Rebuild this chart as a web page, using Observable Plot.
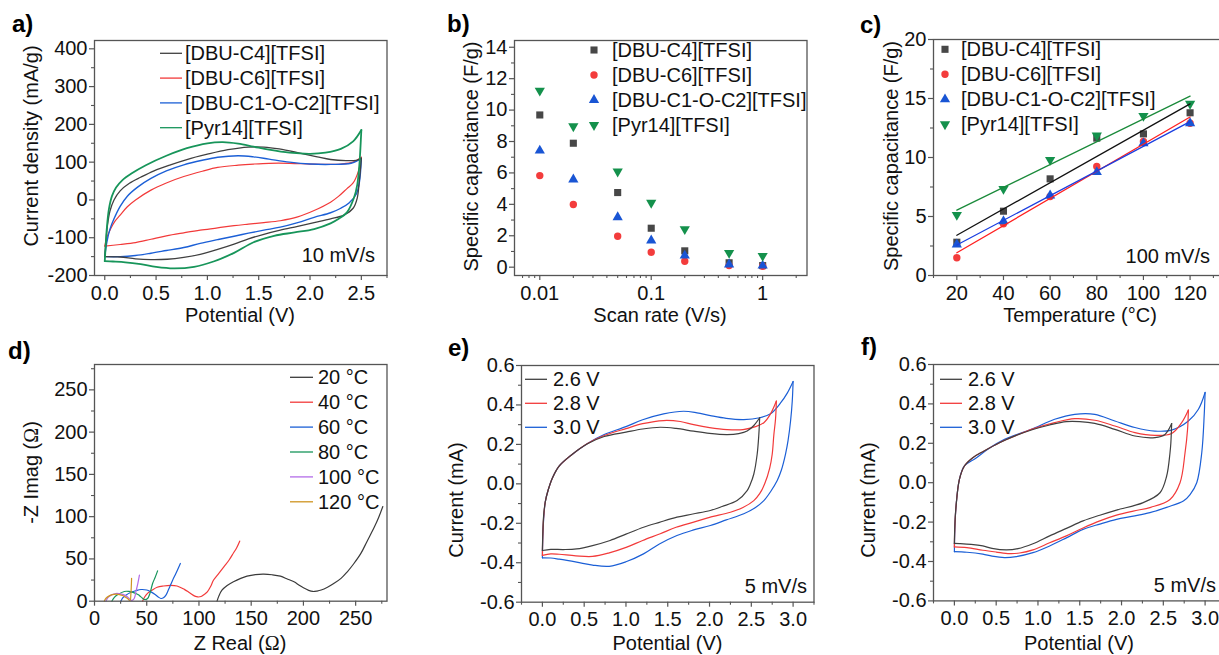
<!DOCTYPE html>
<html><head><meta charset="utf-8">
<script src="https://cdn.jsdelivr.net/npm/d3@7"></script>
<script src="https://cdn.jsdelivr.net/npm/@observablehq/plot@0.6"></script>
<style>
html,body{margin:0;padding:0;background:#fff;overflow:hidden;width:1219px;height:655px;}
#root{position:relative;width:1219px;height:655px;overflow:hidden;}
#root svg{position:absolute;max-width:none;}
</style></head><body><div id="root"></div>
<script>
// ---------------- DATA ----------------
const ilNames = ["[DBU-C4][TFSI]", "[DBU-C6][TFSI]", "[DBU-C1-O-C2][TFSI]", "[Pyr14][TFSI]"];
const ilLineColors = ["#404040", "#f23a3a", "#1b5fd6", "#17955a"];
const ilMarkColors = ["#474747", "#f33c3c", "#1955d4", "#14914c"];
const ilFitColors = ["#111111", "#ff2020", "#1a3ee0", "#1a8a3a"];

// a) CV at 10 mV/s : [potential V, current density mA/g], forward then reverse
const aC4 = [[0,-150],[0.01,-115],[0.025,-70],[0.05,-30],[0.09,0],[0.15,24],[0.24,44],[0.35,60],[0.48,77],[0.64,93],[0.8,107],[1.0,121],[1.2,133],[1.4,140],[1.55,140],[1.7,135],[1.9,124],[2.07,114],[2.2,107],[2.35,104],[2.45,105],[2.5,110],
  [2.48,50],[2.46,5],[2.42,-22],[2.33,-40],[2.2,-50],[2.04,-60],[1.88,-70],[1.71,-80],[1.55,-91],[1.4,-103],[1.26,-117],[1.1,-131],[0.93,-144],[0.77,-152],[0.61,-157],[0.45,-158],[0.3,-156],[0.15,-151],[0,-150]];
const aC6 = [[0,-122],[0.02,-100],[0.06,-75],[0.1,-56],[0.15,-40],[0.22,-18],[0.3,0],[0.45,26],[0.6,45],[0.77,62],[0.95,76],[1.1,86],[1.3,92],[1.45,95],[1.6,97],[1.8,97],[2.0,95],[2.15,94],[2.3,95],[2.42,100],[2.5,113],
  [2.47,75],[2.42,45],[2.36,30],[2.28,10],[2.2,-6],[2.04,-28],[1.88,-45],[1.71,-55],[1.55,-60],[1.4,-64],[1.26,-68],[1.1,-74],[0.93,-80],[0.77,-87],[0.6,-95],[0.45,-104],[0.3,-113],[0.15,-118],[0,-122]];
const aC1OC2 = [[0,-150],[0.02,-112],[0.05,-78],[0.09,-50],[0.15,-17],[0.22,10],[0.32,34],[0.45,57],[0.6,77],[0.77,93],[0.95,105],[1.1,113],[1.3,117],[1.45,114],[1.6,108],[1.8,100],[2.0,95],[2.2,94],[2.4,97],[2.5,110],
  [2.48,45],[2.45,15],[2.38,-8],[2.3,-22],[2.2,-34],[2.04,-46],[1.88,-60],[1.71,-72],[1.55,-80],[1.4,-88],[1.26,-96],[1.1,-105],[0.93,-115],[0.77,-126],[0.6,-134],[0.45,-141],[0.3,-147],[0.15,-150],[0,-150]];
const aPyr14 = [[0,-162],[0.008,-125],[0.02,-75],[0.04,-25],[0.07,10],[0.11,33],[0.17,52],[0.26,70],[0.4,92],[0.6,117],[0.8,137],[1.0,150],[1.15,153],[1.3,149],[1.45,141],[1.6,133],[1.8,125],[2.0,122],[2.15,125],[2.3,135],[2.42,155],[2.5,185],
  [2.48,90],[2.46,40],[2.43,7],[2.36,-33],[2.28,-50],[2.2,-62],[2.04,-77],[1.85,-86],[1.65,-95],[1.45,-112],[1.26,-140],[1.06,-163],[0.87,-177],[0.67,-181],[0.5,-177],[0.35,-170],[0.2,-165],[0.08,-163],[0,-162]];

// b) specific capacitance vs scan rate
const scanRates = [0.01, 0.02, 0.05, 0.1, 0.2, 0.5, 1];
const bC4 = [9.69, 7.89, 4.75, 2.48, 1.04, 0.28, 0.10];
const bC6 = [5.83, 3.99, 1.97, 0.95, 0.38, 0.10, 0.06];
const bC1OC2 = [7.42, 5.58, 3.18, 1.70, 0.74, 0.17, 0.10];
const bPyr14 = [11.24, 8.97, 6.09, 4.10, 2.42, 0.91, 0.72];

// c) specific capacitance vs temperature at 100 mV/s
const temps = [20, 40, 60, 80, 100, 120];
const cC4 = [2.82, 5.45, 8.19, 11.64, 12.00, 13.79];
const cC6 = [1.50, 4.38, 6.69, 9.24, 11.36, 12.90];
const cC1OC2 = [2.63, 4.60, 6.78, 8.76, 11.20, 12.90];
const cPyr14 = [5.14, 7.34, 9.80, 11.86, 13.53, 14.55];

// d) Nyquist plots [Z real, -Z imag]
const tempLabels = ["20 °C", "40 °C", "60 °C", "80 °C", "100 °C", "120 °C"];
const tempColors = ["#3a3a3a", "#f23a3a", "#1b5fd6", "#17955a", "#b36ce8", "#cf9420"];
const d20 = [[117.3,0],[119,6],[122,13],[127,18.5],[133,23],[140,27],[146,29.6],[154,31.5],[162,32],[170,31.3],[178,29.6],[185,26],[191,22.9],[196,18.8],[200,15.8],[205,12.8],[209,11.5],[213,12],[217,13.2],[223,16.5],[229,20.9],[236,27],[242,34.8],[248,44],[255,56.5],[261,71],[268,88],[272,99],[276,112]];
const d40 = [[46,0],[48,5],[51,9.5],[55,13],[60,16.5],[66,18],[73,18.8],[79,18],[86,14],[91,10],[96,6],[99,5],[102,5.5],[105,8],[108,11],[111,17],[114,25],[119,33],[124,41],[129,49],[133,57],[136,63],[139,71]];
const d60 = [[25.3,0],[27,4],[30,7.1],[35,10.5],[40,12.6],[44.5,13.8],[50,13.2],[54,11],[58,8],[61,5],[63.6,3.2],[66,4],[68.4,7.1],[71,14],[74.8,24.9],[78,33],[82.2,44.6]];
const d80 = [[16.6,0],[19,4.5],[22,7.5],[28.5,11.5],[33,11.5],[38.1,9.9],[42,7.5],[44.5,5.1],[47.7,2],[50.8,3.2],[53,9],[55.6,20.9],[58,28],[60.4,35.9]];
const d100 = [[10.9,0],[13,4.5],[16,7.2],[20.5,9.1],[25,8.6],[30.1,6.3],[33,3.5],[34.9,1.2],[36,1],[38,3.2],[40,13],[41.5,21],[43,30.8]];
const d120 = [[9.3,0],[11,3.5],[14.1,6.3],[17,7.8],[20.5,8.3],[24,7.8],[26.9,6.7],[30,4.5],[31.7,3.2],[33.3,1.2],[34.2,1],[34.8,8],[35.2,17],[35.5,27]];

// e) CV at 5 mV/s, different voltage windows [V, mA]
const winLabels = ["2.6 V", "2.8 V", "3.0 V"];
const winColors = ["#404040", "#f23a3a", "#1b5fd6"];
const e26 = [[0,-0.338],[0.005,-0.25],[0.015,-0.16],[0.035,-0.09],[0.07,-0.03],[0.12,0.03],[0.2,0.09],[0.34,0.144],[0.54,0.203],[0.74,0.24],[1.0,0.262],[1.2,0.278],[1.41,0.287],[1.6,0.281],[1.81,0.267],[2.0,0.256],[2.21,0.25],[2.35,0.255],[2.45,0.268],[2.53,0.296],[2.6,0.335],
  [2.59,0.25],[2.57,0.15],[2.53,0.05],[2.49,0.0],[2.45,-0.034],[2.33,-0.085],[2.15,-0.115],[2.01,-0.135],[1.8,-0.153],[1.61,-0.169],[1.4,-0.195],[1.21,-0.22],[1.0,-0.255],[0.81,-0.287],[0.6,-0.313],[0.41,-0.33],[0.25,-0.333],[0.1,-0.332],[0,-0.338]];
const e28 = [[0,-0.363],[0.005,-0.26],[0.015,-0.17],[0.035,-0.09],[0.07,-0.03],[0.12,0.03],[0.2,0.09],[0.34,0.144],[0.54,0.205],[0.74,0.245],[1.0,0.28],[1.2,0.305],[1.45,0.321],[1.65,0.316],[1.81,0.3],[2.0,0.285],[2.21,0.275],[2.4,0.275],[2.55,0.29],[2.65,0.31],[2.73,0.355],[2.8,0.42],
  [2.79,0.33],[2.77,0.25],[2.75,0.15],[2.72,0.08],[2.66,0.0],[2.6,-0.05],[2.53,-0.085],[2.4,-0.12],[2.25,-0.144],[2.0,-0.17],[1.81,-0.194],[1.6,-0.22],[1.41,-0.253],[1.2,-0.287],[1.01,-0.321],[0.8,-0.35],[0.6,-0.368],[0.4,-0.365],[0.2,-0.357],[0.1,-0.355],[0,-0.363]];
const e30 = [[0,-0.375],[0.005,-0.27],[0.015,-0.18],[0.035,-0.09],[0.07,-0.03],[0.12,0.03],[0.2,0.09],[0.34,0.144],[0.54,0.205],[0.74,0.25],[1.0,0.29],[1.2,0.325],[1.45,0.355],[1.69,0.368],[1.85,0.36],[2.01,0.346],[2.2,0.332],[2.41,0.326],[2.6,0.335],[2.73,0.355],[2.85,0.41],[2.93,0.46],[3.0,0.519],
  [2.99,0.42],[2.97,0.32],[2.94,0.22],[2.91,0.152],[2.86,0.07],[2.81,0.017],[2.73,-0.04],[2.65,-0.085],[2.55,-0.12],[2.41,-0.152],[2.2,-0.183],[2.01,-0.211],[1.8,-0.235],[1.61,-0.262],[1.4,-0.305],[1.21,-0.355],[1.0,-0.395],[0.8,-0.418],[0.6,-0.412],[0.41,-0.397],[0.2,-0.382],[0.1,-0.376],[0,-0.375]];

// f) CV at 5 mV/s, second cell [V, mA]
const f26 = [[0,-0.308],[0.005,-0.22],[0.02,-0.118],[0.06,0.017],[0.12,0.085],[0.22,0.127],[0.35,0.16],[0.54,0.203],[0.74,0.24],[0.94,0.27],[1.14,0.293],[1.34,0.31],[1.5,0.31],[1.68,0.301],[1.92,0.271],[2.16,0.237],[2.4,0.229],[2.52,0.245],[2.6,0.3],
  [2.59,0.2],[2.58,0.152],[2.54,0.034],[2.46,-0.051],[2.26,-0.101],[1.94,-0.139],[1.74,-0.165],[1.54,-0.194],[1.34,-0.232],[1.14,-0.27],[0.94,-0.31],[0.76,-0.335],[0.62,-0.341],[0.45,-0.333],[0.34,-0.321],[0.2,-0.313],[0.06,-0.309],[0,-0.308]];
const f28 = [[0,-0.326],[0.005,-0.23],[0.02,-0.118],[0.06,0.017],[0.12,0.085],[0.22,0.127],[0.35,0.16],[0.54,0.203],[0.74,0.24],[0.94,0.273],[1.2,0.305],[1.44,0.325],[1.68,0.317],[1.92,0.288],[2.16,0.254],[2.4,0.24],[2.6,0.25],[2.72,0.305],[2.8,0.369],
  [2.79,0.27],[2.76,0.152],[2.7,0],[2.58,-0.085],[2.35,-0.125],[2.14,-0.144],[1.94,-0.165],[1.74,-0.194],[1.54,-0.23],[1.34,-0.27],[1.14,-0.305],[0.94,-0.341],[0.78,-0.357],[0.66,-0.36],[0.5,-0.352],[0.34,-0.343],[0.15,-0.33],[0,-0.326]];
const f30 = [[0,-0.35],[0.005,-0.24],[0.02,-0.118],[0.06,0.017],[0.12,0.085],[0.26,0.125],[0.4,0.17],[0.6,0.22],[0.92,0.271],[1.2,0.322],[1.44,0.347],[1.68,0.347],[1.92,0.313],[2.16,0.28],[2.4,0.262],[2.6,0.267],[2.8,0.313],[2.92,0.373],[3.0,0.458],
  [2.99,0.35],[2.96,0.152],[2.9,0],[2.82,-0.06],[2.74,-0.093],[2.54,-0.125],[2.34,-0.152],[2.14,-0.17],[1.94,-0.186],[1.74,-0.21],[1.54,-0.237],[1.34,-0.28],[1.14,-0.321],[0.94,-0.355],[0.74,-0.375],[0.6,-0.38],[0.45,-0.373],[0.34,-0.363],[0.15,-0.353],[0,-0.35]];

// tick values
const aXTicks = [0, 0.5, 1, 1.5, 2, 2.5], aXMinor = [0.25, 0.75, 1.25, 1.75, 2.25, 2.75];
const aYTicks = [-200, -100, 0, 100, 200, 300, 400], aYMinor = [-150, -50, 50, 150, 250, 350];
const bXTicks = [0.01, 0.1, 1], bXMinor = [0.007, 0.008, 0.009, 0.02, 0.03, 0.04, 0.05, 0.06, 0.07, 0.08, 0.09, 0.2, 0.3, 0.4, 0.5, 0.6, 0.7, 0.8, 0.9, 2];
const bYTicks = [0, 2, 4, 6, 8, 10, 12, 14], bYMinor = [1, 3, 5, 7, 9, 11, 13];
const cXTicks = [20, 40, 60, 80, 100, 120], cXMinor = [10, 30, 50, 70, 90, 110, 130];
const cYTicks = [0, 5, 10, 15, 20], cYMinor = [2.5, 7.5, 12.5, 17.5];
const dTicks = [0, 50, 100, 150, 200, 250], dMinor = [25, 75, 125, 175, 225, 275];
const eXTicks = [0, 0.5, 1, 1.5, 2, 2.5, 3], eXMinor = [-0.25, 0.25, 0.75, 1.25, 1.75, 2.25, 2.75, 3.25];
const eYTicks = [-0.6, -0.4, -0.2, 0, 0.2, 0.4, 0.6], eYMinor = [-0.5, -0.3, -0.1, 0.1, 0.3, 0.5];

// ---------------- HELPERS ----------------
const FONT = '"Liberation Sans", Arial, Helvetica, sans-serif';
const AXIS = "#555555";
const root = document.getElementById("root");

const triangleDown = {
  draw(context, size) {
    const y = Math.sqrt(size / (Math.sqrt(3) * 3));
    context.moveTo(0, y * 2);
    context.lineTo(-Math.sqrt(3) * y, -y);
    context.lineTo(Math.sqrt(3) * y, -y);
    context.closePath();
  }
};
const ilSymbols = ["square", "circle", "triangle", triangleDown];
const ilSymbolTypes = [d3.symbolSquare, d3.symbolCircle, d3.symbolTriangle, triangleDown];
const ilR = [4.0, 3.7, 3.8, 3.8];

function toRows(arr) { return arr.map(([x, y]) => ({x, y})); }
function loopMarks(arr, color, width) {
  let iMax = 0;
  arr.forEach((p, i) => { if (p[0] > arr[iMax][0]) iMax = i; });
  const fwd = toRows(arr.slice(0, iMax + 1)), rev = toRows(arr.slice(iMax));
  return [fwd, rev].map(d => Plot.line(d, {x: "x", y: "y", stroke: color, strokeWidth: width, curve: "catmull-rom"}));
}

function panel(cfg) {
  const [L, T, R, B] = cfg.frame;
  const mL = 100, mT = 12, mR = 12, mB = 44;
  const axisText = {fontSize: 20, fill: "#111", stroke: AXIS, label: null};
  const chart = Plot.plot({
    width: (R - L) + mL + mR, height: (B - T) + mT + mB,
    marginLeft: mL, marginTop: mT, marginRight: mR, marginBottom: mB,
    x: {...cfg.x, axis: null}, y: {...cfg.y, axis: null},
    style: {background: "none", fontFamily: FONT, fontSize: "20px", overflow: "visible"},
    marks: [
      ...cfg.marks,
      Plot.frame({stroke: AXIS, strokeWidth: 1.3}),
      Plot.axisX({...axisText, ticks: cfg.xTicks, anchor: "bottom", tickSize: 5, tickPadding: 5, tickFormat: cfg.xFmt, strokeWidth: 1.2}),
      Plot.axisX({...axisText, ticks: cfg.xMinor, anchor: "bottom", tickSize: 3, tickFormat: () => "", strokeWidth: 1.1}),
      Plot.axisY({...axisText, ticks: cfg.yTicks, anchor: "left", tickSize: 5, tickPadding: 2, tickFormat: cfg.yFmt, strokeWidth: 1.2}),
      Plot.axisY({...axisText, ticks: cfg.yMinor, anchor: "left", tickSize: 3, tickFormat: () => "", strokeWidth: 1.1})
    ]
  });
  chart.style.position = "absolute";
  chart.style.left = (L - mL) + "px";
  chart.style.top = (T - mT) + "px";
  root.appendChild(chart);
}
const f1 = d => d.toFixed(1);
const fs = d => String(d);

// ---------------- PANELS ----------------
// a
panel({
  frame: [94, 40, 386.5, 275],
  x: {domain: [-0.1, 2.75]}, y: {domain: [-200, 422]},
  xTicks: aXTicks, xMinor: aXMinor, yTicks: aYTicks, yMinor: aYMinor, xFmt: f1, yFmt: fs,
  marks: [
    ...loopMarks(aC6, ilLineColors[1], 1.2),
    ...loopMarks(aC1OC2, ilLineColors[2], 1.4),
    ...loopMarks(aC4, ilLineColors[0], 1.3),
    ...loopMarks(aPyr14, ilLineColors[3], 1.8)
  ]
});
// b
const bSeries = [bC4, bC6, bC1OC2, bPyr14];
panel({
  frame: [514, 40, 806.5, 275],
  x: {type: "log", domain: [0.00593, 2.5]}, y: {domain: [-0.53, 14.43]},
  xTicks: bXTicks, xMinor: bXMinor, yTicks: bYTicks, yMinor: bYMinor, xFmt: fs, yFmt: fs,
  marks: bSeries.map((vals, i) => Plot.dot(scanRates.map((r, j) => ({x: r, y: vals[j]})),
    {x: "x", y: "y", symbol: () => ilSymbols[i], r: ilR[i], fill: ilMarkColors[i], stroke: "none"}))
});
// c
const cSeries = [cC4, cC6, cC1OC2, cPyr14];
const cRows = cSeries.map(vals => temps.map((t, j) => ({x: t, y: vals[j]})));
panel({
  frame: [933.3, 39, 1225.8, 275],
  x: {domain: [10, 135.4]}, y: {domain: [0, 20]},
  xTicks: cXTicks, xMinor: cXMinor, yTicks: cYTicks, yMinor: cYMinor, xFmt: fs, yFmt: fs,
  marks: [
    ...cRows.map((rows, i) => Plot.dot(rows, {x: "x", y: "y", symbol: () => ilSymbols[i], r: ilR[i], fill: ilMarkColors[i], stroke: "none"})),
    ...cRows.map((rows, i) => Plot.linearRegressionY(rows, {x: "x", y: "y", stroke: ilFitColors[i], strokeWidth: 1.3, ci: 0}))
  ]
});
// d
const dSeries = [d20, d40, d60, d80, d100, d120];
panel({
  frame: [94, 364.3, 386.5, 601],
  x: {domain: [0, 280]}, y: {domain: [0, 280]},
  xTicks: dTicks, xMinor: dMinor, yTicks: dTicks, yMinor: dMinor, xFmt: fs, yFmt: fs,
  marks: dSeries.map((arr, i) => Plot.line(toRows(arr), {x: "x", y: "y", stroke: tempColors[i], strokeWidth: 1.2, curve: "catmull-rom"}))
});
// e
panel({
  frame: [521, 365, 813.5, 601.7],
  x: {domain: [-0.25, 3.25]}, y: {domain: [-0.6, 0.6]},
  xTicks: eXTicks, xMinor: eXMinor, yTicks: eYTicks, yMinor: eYMinor, xFmt: f1, yFmt: f1,
  marks: [e30, e28, e26].flatMap((arr, k) => loopMarks(arr, winColors[2 - k], 1.2))
});
// f
panel({
  frame: [932.7, 364.3, 1225.2, 600.7],
  x: {domain: [-0.25, 3.25]}, y: {domain: [-0.6, 0.6]},
  xTicks: eXTicks, xMinor: eXMinor, yTicks: eYTicks, yMinor: eYMinor, xFmt: f1, yFmt: f1,
  marks: [f30, f28, f26].flatMap((arr, k) => loopMarks(arr, winColors[2 - k], 1.2))
});

// ---------------- TEXT / LEGENDS OVERLAY ----------------
const ov = d3.select(root).append("svg").attr("width", 1219).attr("height", 655)
  .style("left", "0px").style("top", "0px").style("font-family", FONT).style("pointer-events", "none");
function text(x, y, s, opt = {}) {
  const t = ov.append("text").attr("x", x).attr("y", y).attr("font-size", opt.size || 20)
    .attr("fill", opt.fill || "#111").attr("text-anchor", opt.anchor || "start")
    .attr("font-weight", opt.weight || "normal");
  if (opt.rotate) t.attr("transform", `rotate(-90 ${x} ${y})`);
  t.text(s);
  return t;
}
function textOhm(x, y, pre, opt = {}) {
  const t = text(x, y, "", opt);
  t.append("tspan").text(pre + " (");
  t.append("tspan").attr("font-family", '"Liberation Serif", "DejaVu Serif", serif').text("Ω");
  t.append("tspan").text(")");
}
// panel letters
[["a)", 12, 32], ["b)", 447, 32], ["c)", 860, 33], ["d)", 8, 359], ["e)", 448, 356], ["f)", 861, 355]]
  .forEach(([s, x, y]) => text(x, y, s, {size: 24, weight: "bold", fill: "#000"}));
// axis titles
text(37.5, 146, "Current density (mA/g)", {anchor: "middle", rotate: true});
text(240, 322, "Potential (V)", {anchor: "middle"});
text(478, 156.5, "Specific capacitance (F/g)", {anchor: "middle", rotate: true});
text(660, 322, "Scan rate (V/s)", {anchor: "middle"});
text(897.5, 156, "Specific capacitance (F/g)", {anchor: "middle", rotate: true});
text(1080, 322, "Temperature (°C)", {anchor: "middle"});
textOhm(38.3, 472.5, "-Z Imag", {anchor: "middle", rotate: true});
textOhm(240, 650, "Z Real", {anchor: "middle"});
text(463, 500, "Current (mA)", {anchor: "middle", rotate: true});
text(667.5, 650, "Potential (V)", {anchor: "middle"});
text(875, 500, "Current (mA)", {anchor: "middle", rotate: true});
text(1079, 650, "Potential (V)", {anchor: "middle"});
// annotations
text(375, 262, "10 mV/s", {anchor: "end"});
text(1210, 263, "100 mV/s", {anchor: "end"});
text(807, 592.5, "5 mV/s", {anchor: "end"});
text(1216, 592, "5 mV/s", {anchor: "end"});
// legend helpers
function lineLegend(x0, x1, tx, y0, dy, names, colors) {
  names.forEach((n, i) => {
    const y = y0 + i * dy;
    ov.append("line").attr("x1", x0).attr("x2", x1).attr("y1", y).attr("y2", y)
      .attr("stroke", colors[i]).attr("stroke-width", 1.3);
    text(tx, y + 7, n);
  });
}
function symLegend(mx, tx, y0, dy) {
  ilNames.forEach((n, i) => {
    const y = y0 + i * dy;
    ov.append("path").attr("d", d3.symbol(ilSymbolTypes[i], Math.PI * ilR[i] * ilR[i])())
      .attr("transform", `translate(${mx},${y})`).attr("fill", ilMarkColors[i]);
    text(tx, y + 7, n);
  });
}
lineLegend(160, 182, 185, 53.3, 24.8, ilNames, ilLineColors);
symLegend(594, 612, 50, 25);
symLegend(945, 961, 49.3, 25);
lineLegend(290, 313, 318, 377.3, 24.9, tempLabels, tempColors);
lineLegend(525, 547, 553, 379.3, 24, winLabels, winColors);
lineLegend(940, 962, 968, 379.3, 24, winLabels, winColors);
</script></body></html>
